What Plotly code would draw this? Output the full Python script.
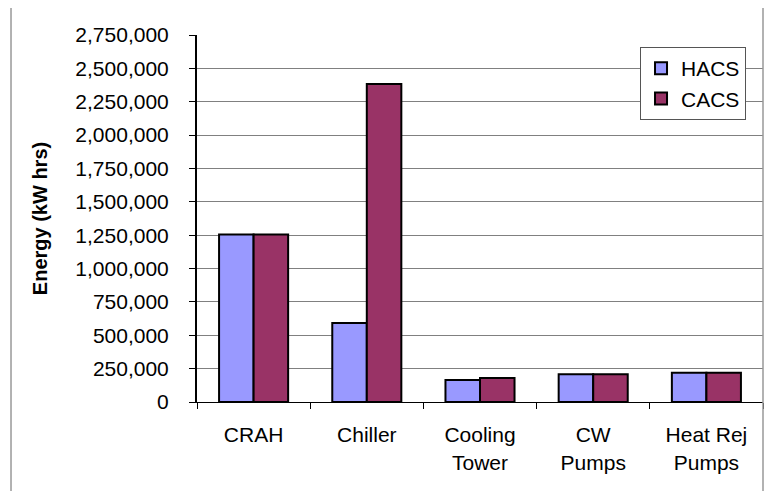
import plotly.graph_objects as go

categories = ["CRAH", "Chiller", "Cooling<br>Tower", "CW<br>Pumps", "Heat Rej<br>Pumps"]
hacs = [1255000, 592000, 165000, 207000, 220000]
cacs = [1255000, 2383000, 180000, 207000, 220000]
tick_vals = [0, 250000, 500000, 750000, 1000000, 1250000, 1500000, 1750000,
             2000000, 2250000, 2500000, 2750000]

font = "Liberation Sans, Arial, sans-serif"

fig = go.Figure()
fig.add_trace(go.Bar(x=categories, y=hacs, name="HACS",
                     marker=dict(color="#9999FF", line=dict(color="black", width=2))))
fig.add_trace(go.Bar(x=categories, y=cacs, name="CACS",
                     marker=dict(color="#993366", line=dict(color="black", width=2))))

# page body has an 8px margin, so figure coords = screen coords - 8
fig.update_layout(
    width=767, height=483,
    margin=dict(l=189, r=12, t=27, b=89, autoexpand=False),
    paper_bgcolor="white", plot_bgcolor="white",
    barmode="group", bargap=0.39, bargroupgap=0,
    font=dict(family=font, size=21, color="black"),
    showlegend=True,
    legend=dict(x=0.97, y=0.967, xanchor="right", yanchor="top",
                bordercolor="#555555", borderwidth=1, bgcolor="white",
                font=dict(size=21), itemwidth=30, tracegroupgap=2),
    xaxis=dict(showline=True, linecolor="black", linewidth=1,
               ticks="outside", tickson="boundaries", ticklen=6, tickcolor="black",
               tickfont=dict(size=21), showgrid=False, ticklabelstandoff=14),
    yaxis=dict(range=[0, 2750000], tickvals=tick_vals, tickformat=",",
               showline=True, linecolor="black", linewidth=2,
               ticks="outside", ticklen=6, tickcolor="black",
               showgrid=True, gridcolor="#808080", gridwidth=1,
               tickfont=dict(size=21), zeroline=False, ticklabelstandoff=16,
               title=dict(text="<b>Energy (kW hrs)</b>", font=dict(size=20), standoff=22)),
    shapes=[
        dict(type="line", xref="paper", yref="paper", x0=-0.3286, x1=-0.3286, y0=1.0763, y1=-0.3,
             line=dict(color="#999999", width=1.5)),
        dict(type="line", xref="paper", yref="paper", x0=-0.3286, x1=1.0, y0=1.0763, y1=1.0763,
             line=dict(color="#999999", width=1.5)),
        dict(type="line", xref="paper", yref="paper", x0=1.0, x1=1.0, y0=1.0763, y1=-0.3,
             line=dict(color="#999999", width=1.5)),
    ],
)

fig.write_html("out.html")
